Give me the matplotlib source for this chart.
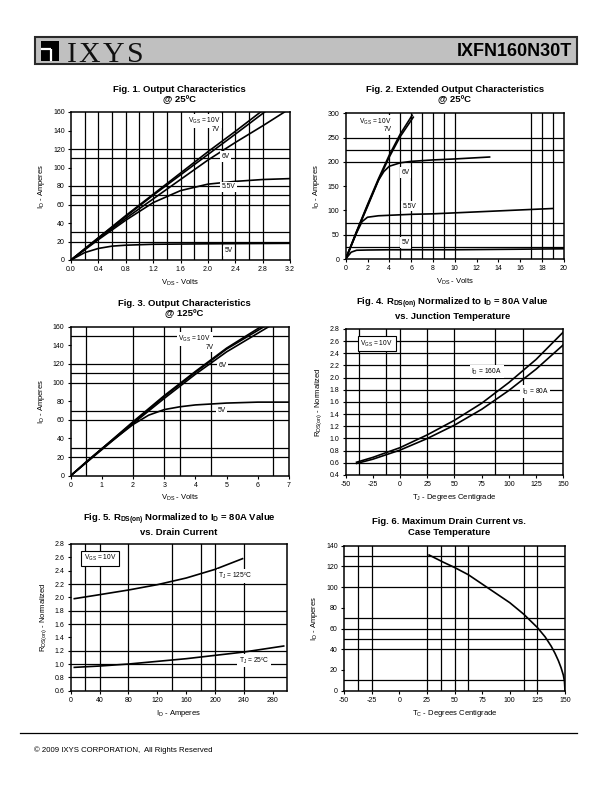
import numpy as np
import matplotlib
matplotlib.use("Agg")
import matplotlib.pyplot as plt
from matplotlib.patches import Rectangle

plt.rcParams['font.family'] = ['Liberation Sans', 'DejaVu Sans']
plt.rcParams['mathtext.fontset'] = 'custom'
plt.rcParams['mathtext.rm'] = 'Liberation Sans'
plt.rcParams['mathtext.bf'] = 'Liberation Sans:bold'
plt.rcParams['mathtext.it'] = 'Liberation Sans'
plt.rcParams['mathtext.default'] = 'rm'
plt.rcParams['axes.unicode_minus'] = False

W, H = 612, 792

# ---------------- data ----------------
# Fig 1 - output characteristics @ 25C
f1_v10 = [0, 0.4, 0.8, 1.2, 1.6, 2.0, 2.4, 2.77]
f1_i10 = [0, 24, 48, 71, 94, 117, 139, 160]
f1_v7 = [0, 0.4, 0.8, 1.2, 1.6, 2.0, 2.4, 2.83]
f1_i7 = [0, 24, 47, 70, 92, 114, 136, 160]
f1_v6 = [0, 0.4, 0.8, 1.2, 1.6, 2.0, 2.4, 2.8, 3.12]
f1_i6 = [0, 23, 45, 66, 87, 108, 127, 145, 160]
f1_v55 = [0, 0.4, 0.8, 1.2, 1.6, 2.0, 2.4, 2.8, 3.2]
f1_i55 = [0, 22, 43, 62, 75, 82, 85, 87, 88]
f1_v5 = [0, 0.2, 0.4, 0.6, 0.8, 1.2, 2.0, 3.2]
f1_i5 = [0, 8, 12.5, 15, 16, 17, 17.5, 18]

# Fig 2 - extended output characteristics @ 25C
f2_v10 = [0, 1, 2, 3, 4, 5, 6.1]
f2_i10 = [0, 57, 112, 165, 214, 257, 296]
f2_v7 = [0, 1, 2, 3, 4, 5, 6.2]
f2_i7 = [0, 56, 110, 162, 210, 252, 292]
f2_v6 = [0, 0.5, 1, 1.5, 2, 2.5, 3, 3.5, 4, 5, 6, 8, 10, 13.2]
f2_i6 = [0, 27, 55, 82, 108, 135, 162, 180, 191, 198, 201, 204, 206, 210]
f2_v55 = [0, 0.5, 1, 1.5, 2, 3, 4, 6, 8, 10, 14, 19]
f2_i55 = [0, 27, 54, 77, 86, 89, 90, 92, 93, 95, 99, 104]
f2_v5 = [0, 0.5, 1, 2, 4, 10, 15, 20]
f2_i5 = [0, 14, 18, 18.5, 19, 19, 20, 21]

# Fig 3 - output characteristics @ 125C
f3_v10 = [0, 1, 2, 3, 4, 5, 6.1]
f3_i10 = [0, 29, 58, 86, 112, 137, 160]
f3_v7 = [0, 1, 2, 3, 4, 5, 6.2]
f3_i7 = [0, 29, 57, 85, 111, 136, 160]
f3_v6 = [0, 1, 2, 3, 4, 5, 6.35]
f3_i6 = [0, 28, 56, 83, 109, 133, 160]
f3_v5 = [0, 0.5, 1, 1.5, 2, 2.5, 3, 3.5, 4, 5, 6, 7]
f3_i5 = [0, 15, 29, 42, 55, 65, 71, 74, 76, 78, 79, 79]

# Fig 4 - RDS(on) vs junction temperature
f4_tj = [-40, -25, 0, 25, 50, 75, 100, 125, 150]
f4_r160 = [0.61, 0.69, 0.85, 1.06, 1.30, 1.58, 1.92, 2.30, 2.75]
f4_r80 = [0.59, 0.66, 0.81, 1.00, 1.22, 1.48, 1.79, 2.14, 2.54]

# Fig 5 - RDS(on) vs drain current
f5_id125 = [5, 40, 80, 120, 160, 200, 238]
f5_r125 = [1.98, 2.04, 2.11, 2.19, 2.29, 2.42, 2.58]
f5_id25 = [5, 40, 80, 120, 160, 200, 240, 295]
f5_r25 = [0.95, 0.97, 1.00, 1.04, 1.08, 1.13, 1.18, 1.27]

# Fig 6 - max drain current vs case temperature
f6_tc = [27, 40, 50, 62.5, 75, 87.5, 100, 112.5, 125, 132, 137.5, 141, 144, 146.5, 148.5, 149.5, 150]
f6_id = [131, 124, 119, 112, 103, 94, 85, 74, 61, 52, 43, 36, 29, 22, 15, 9, 0]

fig = plt.figure(figsize=(W / 100, H / 100), dpi=100)

# page layer in pixel coordinates
pg = fig.add_axes([0, 0, 1, 1], zorder=-5)
pg.set_xlim(0, W)
pg.set_ylim(H, 0)
pg.axis('off')

# header
pg.add_patch(Rectangle((35, 37), 542, 27, facecolor='#c0c0c0', edgecolor='#2a2a2a', lw=1.5))
pg.add_patch(Rectangle((41, 41), 18, 20, facecolor='black', edgecolor='none'))
pg.plot([41, 51], [49, 49], color='white', lw=1.6, solid_capstyle='butt')
pg.plot([51, 51], [49, 61], color='white', lw=1.6, solid_capstyle='butt')
for ch, cx in zip("IXYS", [71.5, 89.5, 113.5, 135.5]):
    pg.text(cx, 62, ch, fontsize=21.5, family='Liberation Serif', ha='center', va='baseline', color='#111111')
pg.text(572, 51, "IXFN160N30T", fontsize=13, fontweight='bold', ha='right', va='center')

# footer
pg.plot([20, 577], [733, 733], color='black', lw=0.9)
pg.text(34, 750, "\u00a9 2009 IXYS CORPORATION,  All Rights Reserved", fontsize=5.6, ha='left', va='center')


def make_ax(x0, y0, x1, y1):
    ax = fig.add_axes([x0 / W, 1 - y1 / H, (x1 - x0) / W, (y1 - y0) / H])
    for s in ax.spines.values():
        s.set_linewidth(1.1)
    ax.tick_params(direction='out', length=2.5, width=0.8, labelsize=5, pad=2)
    return ax


def grid(ax, xs, ys):
    for x in xs:
        ax.axvline(x, color='black', lw=0.9, zorder=1)
    for y in ys:
        ax.axhline(y, color='black', lw=0.9, zorder=1)


def label(ax, x, y, s, boxed=False):
    if boxed:
        bb = dict(facecolor='white', edgecolor='black', lw=0.8, pad=1.8)
    else:
        bb = dict(facecolor='white', edgecolor='none', pad=1.2)
    ax.text(x, y, s, fontsize=4.8, ha='center', va='center', bbox=bb, zorder=4)


def title(x, y, s):
    fig.text(x / W, 1 - y / H, s, fontsize=6.8, fontweight='bold', ha='center', va='center', linespacing=1.15)


lw_c = 1.2

# ---- Fig 1 ----
ax1 = make_ax(71, 112, 290, 260)
grid(ax1, np.arange(0.2, 2.81, 0.2), [20, 30, 60, 70, 80, 110, 120])
for xv, yv in [(f1_v10, f1_i10), (f1_v7, f1_i7), (f1_v6, f1_i6), (f1_v55, f1_i55), (f1_v5, f1_i5)]:
    ax1.plot(xv, yv, color='black', lw=lw_c, zorder=3)
ax1.set_xlim(0, 3.2)
ax1.set_ylim(0, 160)
ax1.set_xticks(np.arange(0, 3.21, 0.4))
ax1.set_xticklabels([f"{v:.1f}" for v in np.arange(0, 3.21, 0.4)])
ax1.set_yticks(range(0, 161, 20))
ax1.set_xlabel(r"V$_{DS}$ - Volts", fontsize=5.5, labelpad=3)
ax1.set_ylabel(r"I$_D$ - Amperes", fontsize=5.5, labelpad=4)
label(ax1, 1.95, 150, r"V$_{GS}$ = 10V")
label(ax1, 2.11, 141.5, "7V")
label(ax1, 2.26, 112, "6V")
label(ax1, 2.3, 79, "5.5V")
label(ax1, 2.3, 10, "5V")
title(179.5, 94.5, "Fig. 1. Output Characteristics\n@ 25\u00baC")

# ---- Fig 2 ----
ax2 = make_ax(345.7, 113.3, 563.7, 259)
grid(ax2, [4, 5, 6, 7, 8, 9, 10, 17, 18, 19], [25, 50, 75, 200, 225, 250])
for xv, yv in [(f2_v10, f2_i10), (f2_v7, f2_i7), (f2_v6, f2_i6), (f2_v55, f2_i55), (f2_v5, f2_i5)]:
    ax2.plot(xv, yv, color='black', lw=lw_c, zorder=3)
ax2.set_xlim(0, 20)
ax2.set_ylim(0, 300)
ax2.set_xticks(range(0, 21, 2))
ax2.set_yticks(range(0, 301, 50))
ax2.set_xlabel(r"V$_{DS}$ - Volts", fontsize=5.5, labelpad=3)
ax2.set_ylabel(r"I$_D$ - Amperes", fontsize=5.5, labelpad=4)
label(ax2, 2.7, 283, r"V$_{GS}$ = 10V")
label(ax2, 3.85, 266, "7V")
label(ax2, 5.5, 178, "6V")
label(ax2, 5.85, 109, "5.5V")
label(ax2, 5.5, 34, "5V")
title(455, 94.5, "Fig. 2. Extended Output Characteristics\n@ 25\u00baC")

# ---- Fig 3 ----
ax3 = make_ax(70.7, 326.7, 289, 475.7)
grid(ax3, [0.5, 2, 3, 3.5, 4.5, 6.5], [20, 30, 60, 70, 100, 110, 120, 150])
for xv, yv in [(f3_v10, f3_i10), (f3_v7, f3_i7), (f3_v6, f3_i6), (f3_v5, f3_i5)]:
    ax3.plot(xv, yv, color='black', lw=lw_c, zorder=3)
ax3.set_xlim(0, 7)
ax3.set_ylim(0, 160)
ax3.set_xticks(range(0, 8))
ax3.set_yticks(range(0, 161, 20))
ax3.set_xlabel(r"V$_{DS}$ - Volts", fontsize=5.5, labelpad=3)
ax3.set_ylabel(r"I$_D$ - Amperes", fontsize=5.5, labelpad=4)
label(ax3, 3.98, 146.6, r"V$_{GS}$ = 10V")
label(ax3, 4.46, 138, "7V")
label(ax3, 4.86, 118, "6V")
label(ax3, 4.83, 70, "5V")
title(184, 309, "Fig. 3. Output Characteristics\n@ 125\u00baC")

# ---- Fig 4 ----
ax4 = make_ax(345.7, 329, 563.3, 475)
grid(ax4, [-37.5, -12.5, 0, 25, 50, 87.5, 112.5], np.arange(0.6, 2.61, 0.2))
ax4.plot(f4_tj, f4_r160, color='black', lw=lw_c, zorder=3)
ax4.plot(f4_tj, f4_r80, color='black', lw=lw_c, zorder=3)
ax4.set_xlim(-50, 150)
ax4.set_ylim(0.4, 2.8)
ax4.set_xticks(range(-50, 151, 25))
yt = np.arange(0.4, 2.81, 0.2)
ax4.set_yticks(yt)
ax4.set_yticklabels([f"{v:.1f}" for v in yt])
ax4.set_xlabel(r"T$_J$ - Degrees Centigrade", fontsize=5.5, labelpad=3)
ax4.set_ylabel(r"R$_{DS(on)}$ - Normalized", fontsize=5.5, labelpad=4)
label(ax4, -21.5, 2.56, r"V$_{GS}$ = 10V", boxed=True)
label(ax4, 79.6, 2.10, r"I$_D$ = 160A")
label(ax4, 124, 1.77, r"I$_D$ = 80A")
title(452.5, 308.5, r"Fig. 4. R$_{\mathbf{DS(on)}}$ Normalized to I$_{\mathbf{D}}$ = 80A Value" + "\nvs. Junction Temperature")

# ---- Fig 5 ----
ax5 = make_ax(70.7, 544, 287.3, 690.7)
grid(ax5, [20, 40, 80, 140, 180, 200, 240], [0.8, 1.0, 1.2, 1.6, 1.8, 2.2])
ax5.plot(f5_id125, f5_r125, color='black', lw=lw_c, zorder=3)
ax5.plot(f5_id25, f5_r25, color='black', lw=lw_c, zorder=3)
ax5.set_xlim(0, 300)
ax5.set_ylim(0.6, 2.8)
ax5.set_xticks(range(0, 281, 40))
yt5 = np.arange(0.6, 2.81, 0.2)
ax5.set_yticks(yt5)
ax5.set_yticklabels([f"{v:.1f}" for v in yt5])
ax5.set_xlabel(r"I$_D$ - Amperes", fontsize=5.5, labelpad=3)
ax5.set_ylabel(r"R$_{DS(on)}$ - Normalized", fontsize=5.5, labelpad=4)
label(ax5, 40.4, 2.585, r"V$_{GS}$ = 10V", boxed=True)
label(ax5, 228, 2.32, "T$_J$ = 125\u00baC")
label(ax5, 254, 1.05, "T$_J$ = 25\u00baC")
title(179, 524.5, r"Fig. 5. R$_{\mathbf{DS(on)}}$ Normalized to I$_{\mathbf{D}}$ = 80A Value" + "\nvs. Drain Current")

# ---- Fig 6 ----
ax6 = make_ax(344, 545.7, 565, 690.7)
grid(ax6, [-37.5, -25, 25, 37.5, 50, 62.5, 112.5, 125], [10, 40, 50, 60, 70, 100, 120, 130])
ax6.plot(f6_tc, f6_id, color='black', lw=lw_c, zorder=3)
ax6.set_xlim(-50, 150)
ax6.set_ylim(0, 140)
ax6.set_xticks(range(-50, 151, 25))
ax6.set_yticks(range(0, 141, 20))
ax6.set_xlabel(r"T$_C$ - Degrees Centigrade", fontsize=5.5, labelpad=3)
ax6.set_ylabel(r"I$_D$ - Amperes", fontsize=5.5, labelpad=4)
title(449, 527, "Fig. 6. Maximum Drain Current vs.\nCase Temperature")

fig.savefig("out.png", dpi=100)
